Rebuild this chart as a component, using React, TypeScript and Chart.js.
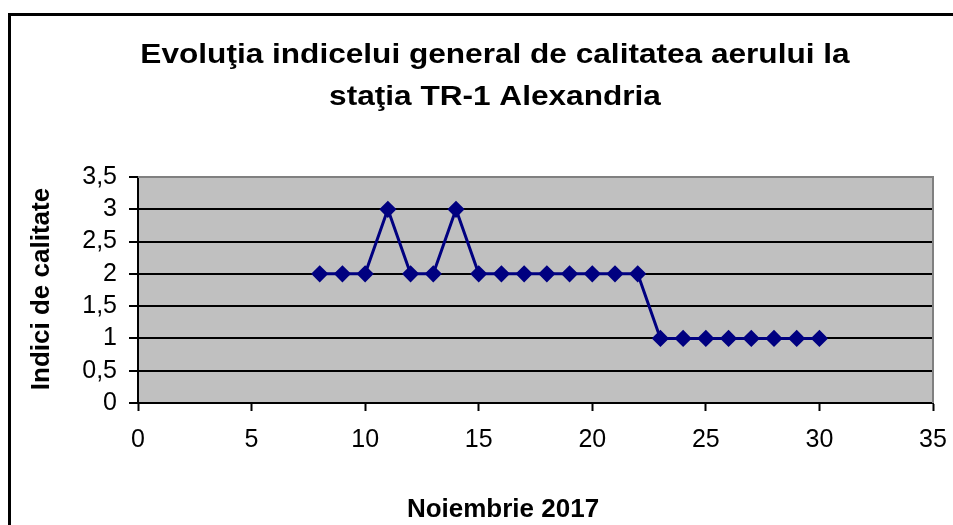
import React, { useEffect, useRef } from 'react';
import { Chart, registerables } from 'chart.js';

Chart.register(...registerables);

// ---- data ----
const days = [8, 9, 10, 11, 12, 13, 14, 15, 16, 17, 18, 19, 20, 21, 22, 23, 24, 25, 26, 27, 28, 29, 30];
const indexValues = [2, 2, 2, 3, 2, 2, 3, 2, 2, 2, 2, 2, 2, 2, 2, 1, 1, 1, 1, 1, 1, 1, 1];
const titleLines = ['Evoluţia indicelui general de calitatea aerului la', 'staţia TR-1 Alexandria'];
const yAxisTitle = 'Indici de calitate';
const xAxisTitle = 'Noiembrie 2017';
const xRange = [0, 35];
const yRange = [0, 3.5];

const FONT = '"Liberation Sans", Arial, sans-serif';

const decorPlugin = {
  id: 'decor',
  beforeDraw(chart: any) {
    const { ctx, chartArea } = chart;
    ctx.save();
    ctx.fillStyle = '#ffffff';
    ctx.fillRect(0, 0, chart.width, chart.height);
    ctx.fillStyle = '#C0C0C0';
    ctx.fillRect(chartArea.left, chartArea.top, chartArea.right - chartArea.left, chartArea.bottom - chartArea.top);
    ctx.restore();
  },
  beforeDatasetsDraw(chart: any) {
    const { ctx, chartArea } = chart;
    ctx.save();
    ctx.strokeStyle = '#808080';
    ctx.lineWidth = 2;
    ctx.beginPath();
    ctx.moveTo(chartArea.left, chartArea.top);
    ctx.lineTo(chartArea.right, chartArea.top);
    ctx.lineTo(chartArea.right, chartArea.bottom);
    ctx.stroke();
    ctx.restore();
  },
  afterDraw(chart: any) {
    const { ctx } = chart;
    ctx.save();
    // outer frame
    ctx.strokeStyle = '#000';
    ctx.lineWidth = 3;
    ctx.strokeRect(9.5, 14.5, 1200, 1200);
    // chart title
    ctx.fillStyle = '#000';
    ctx.font = `bold 27px ${FONT}`;
    ctx.textAlign = 'center';
    ctx.textBaseline = 'alphabetic';
    ctx.save();
    ctx.translate(495, 0);
    ctx.scale(1.17, 1);
    ctx.fillText(titleLines[0], 0, 63);
    ctx.fillText(titleLines[1], 0, 105);
    ctx.restore();
    // x axis title
    ctx.font = `bold 26px ${FONT}`;
    ctx.fillText(xAxisTitle, 503, 517);
    // y axis title
    ctx.save();
    ctx.translate(42, 289);
    ctx.rotate(-Math.PI / 2);
    ctx.textBaseline = 'middle';
    ctx.fillText(yAxisTitle, 0, 0);
    ctx.restore();
    ctx.restore();
  },
};

export default function App() {
  const ref = useRef<HTMLCanvasElement | null>(null);
  useEffect(() => {
    if (!ref.current) return;
    const chart = new Chart(ref.current, {
      type: 'line',
      data: {
        datasets: [
          {
            data: days.map((d, i) => ({ x: d, y: indexValues[i] })),
            borderColor: '#000080',
            backgroundColor: '#000080',
            borderWidth: 3,
            pointStyle: 'rectRot',
            pointRadius: 6.5,
            pointBackgroundColor: '#000080',
            pointBorderColor: '#000080',
            tension: 0,
          },
        ],
      },
      options: {
        responsive: false,
        animation: false,
        layout: { padding: { top: 177, right: 20, left: 0, bottom: 0 } },
        plugins: { legend: { display: false }, tooltip: { enabled: false }, title: { display: false } },
        scales: {
          x: {
            type: 'linear',
            min: xRange[0],
            max: xRange[1],
            ticks: { stepSize: 5, color: '#000', font: { family: FONT, size: 25 }, padding: 14, maxRotation: 0, autoSkip: false },
            grid: { drawOnChartArea: false, tickLength: 8, tickColor: '#000', tickWidth: 2 },
            border: { color: '#000', width: 2 },
            afterFit: (s: any) => { s.height = 122; s.paddingLeft = 0; s.paddingRight = 0; },
          },
          y: {
            min: yRange[0],
            max: yRange[1],
            ticks: {
              stepSize: 0.5,
              autoSkip: false,
              color: '#000',
              font: { family: FONT, size: 25 },
              padding: 12,
              callback: (v: any) => String(v).replace('.', ','),
            },
            grid: {
              color: (c: any) => (c.tick && c.tick.value === 3.5 ? '#808080' : '#000'),
              lineWidth: 2,
              tickLength: 9,
              tickColor: '#000',
              tickWidth: 2,
            },
            border: { color: '#000', width: 2 },
            afterFit: (s: any) => { s.width = 138; s.paddingTop = 0; s.paddingBottom = 0; },
          },
        },
      },
      plugins: [decorPlugin],
    });
    return () => chart.destroy();
  }, []);
  return (
    <div style={{ position: 'absolute', left: 0, top: 0, width: 953, height: 525 }}>
      <canvas ref={ref} width={953} height={525} />
    </div>
  );
}
